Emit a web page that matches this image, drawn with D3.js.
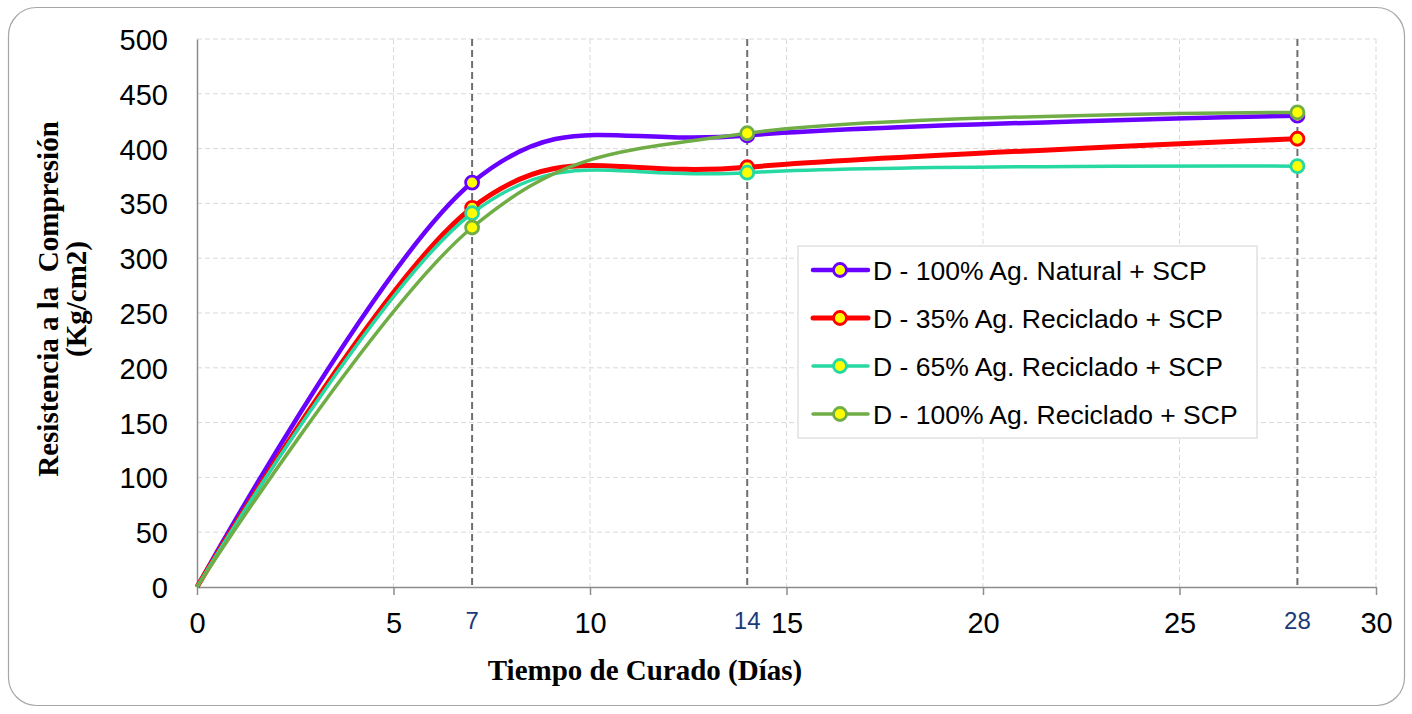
<!DOCTYPE html>
<html lang="es">
<head>
<meta charset="UTF-8">
<title>Resistencia a la Compresión</title>
<script src="https://d3js.org/d3.v7.min.js"></script>
<style>
  body { margin: 0; background: #fff; }
  svg { display: block; }
  .tick text { font-family: "Liberation Sans", Arial, sans-serif; }
</style>
</head>
<body>
<svg id="chart" width="1412" height="714"></svg>
<script>
// data
const days = [0, 7, 14, 28];
const natural100 = [0, 369, 412, 430];
const reciclado35 = [0, 346, 383, 409];
const reciclado65 = [0, 341, 378, 384];
const reciclado100 = [0, 328, 414, 433];
const seriesNames = [
  "D - 100% Ag. Natural + SCP",
  "D - 35% Ag. Reciclado + SCP",
  "D - 65% Ag. Reciclado + SCP",
  "D - 100% Ag. Reciclado + SCP"
];
const seriesColors = ["#6a00ff", "#ff0000", "#26d8a2", "#70ad47"];
const seriesWidths = [4.5, 5, 3.5, 3.5];
const xTicks = [0, 5, 10, 15, 20, 25, 30];
const yTicks = d3.range(0, 501, 50);
const markDays = [7, 14, 28];

const series = [natural100, reciclado35, reciclado65, reciclado100].map((vals, i) => ({
  name: seriesNames[i], color: seriesColors[i], width: seriesWidths[i],
  points: days.map((d, j) => [d, vals[j]])
}));

const svg = d3.select("#chart");
const m = { left: 197, right: 1376, top: 39, bottom: 587 };

// outer rounded frame
svg.append("rect")
  .attr("x", 8.5).attr("y", 7.5).attr("width", 1396).attr("height", 698)
  .attr("rx", 28).attr("fill", "#fff").attr("stroke", "#a6a6a6").attr("stroke-width", 1.2);

const x = d3.scaleLinear().domain([0, 30]).range([m.left, m.right]);
const y = d3.scaleLinear().domain([0, 500]).range([m.bottom, m.top]);

// gridlines
svg.append("g").selectAll("line").data(yTicks.slice(1)).join("line")
  .attr("x1", m.left).attr("x2", m.right)
  .attr("y1", d => y(d)).attr("y2", d => y(d))
  .attr("stroke", "#d9d9d9").attr("stroke-dasharray", "5,3");
svg.append("g").selectAll("line").data(xTicks.slice(1)).join("line")
  .attr("x1", d => x(d)).attr("x2", d => x(d))
  .attr("y1", m.top).attr("y2", m.bottom)
  .attr("stroke", "#d9d9d9").attr("stroke-dasharray", "5,3");

// dashed markers at test ages
svg.append("g").selectAll("line").data(markDays).join("line")
  .attr("x1", d => x(d)).attr("x2", d => x(d))
  .attr("y1", m.top).attr("y2", m.bottom)
  .attr("stroke", "#6f6f6f").attr("stroke-width", 2).attr("stroke-dasharray", "7,4");

// axes
const xAxis = svg.append("g").attr("transform", `translate(0,${m.bottom})`)
  .call(d3.axisBottom(x).tickValues(xTicks).tickSize(8).tickPadding(17).tickSizeOuter(0));
const yAxis = svg.append("g").attr("transform", `translate(${m.left},0)`)
  .call(d3.axisLeft(y).tickValues(yTicks).tickSize(0).tickPadding(29).tickSizeOuter(0));
[xAxis, yAxis].forEach(a => {
  a.select(".domain").attr("stroke", "#8c8c8c").attr("stroke-width", 1.5);
  a.selectAll(".tick line").attr("stroke", "#8c8c8c").attr("stroke-width", 1.5);
  a.selectAll(".tick text").attr("font-size", 29).attr("fill", "#000");
});
yAxis.selectAll(".tick text").attr("dy", "0.36em");

// labels for test ages
svg.append("g").selectAll("text").data(markDays).join("text")
  .attr("x", d => x(d)).attr("y", 629)
  .attr("text-anchor", "middle")
  .attr("font-family", "'Liberation Sans', Arial, sans-serif")
  .attr("font-size", 24).attr("fill", "#1c3a78")
  .text(d => d);

// axis titles
svg.append("text")
  .attr("x", 645).attr("y", 680).attr("text-anchor", "middle")
  .attr("font-family", "'Liberation Serif', 'Times New Roman', serif")
  .attr("font-weight", "bold").attr("font-size", 29)
  .text("Tiempo de Curado (Días)");
const yt = svg.append("text")
  .attr("transform", "translate(58,299) rotate(-90)")
  .attr("text-anchor", "middle")
  .attr("font-family", "'Liberation Serif', 'Times New Roman', serif")
  .attr("font-weight", "bold").attr("font-size", 29);
yt.append("tspan").attr("x", 0).attr("y", 0).attr("xml:space", "preserve").text("Resistencia a la  Compresión");
yt.append("tspan").attr("x", 0).attr("y", 28).text("(Kg/cm2)");

// series
const line = d3.line().x(d => x(d[0])).y(d => y(d[1])).curve(d3.curveCardinal.tension(0));
const sg = svg.append("g").selectAll("g").data(series).join("g");
sg.append("path")
  .attr("d", d => line(d.points))
  .attr("fill", "none")
  .attr("stroke", d => d.color)
  .attr("stroke-width", d => d.width)
  .attr("stroke-linejoin", "round");
sg.selectAll("circle").data(d => d.points.slice(1).map(p => ({ p, c: d.color }))).join("circle")
  .attr("cx", d => x(d.p[0])).attr("cy", d => y(d.p[1]))
  .attr("r", 6.5).attr("fill", "#ffff00")
  .attr("stroke", d => d.c).attr("stroke-width", 2.8);

// legend
const lg = svg.append("g").attr("transform", "translate(798,246)");
lg.append("rect").attr("width", 459).attr("height", 192)
  .attr("fill", "#fff").attr("stroke", "#d9d9d9").attr("stroke-width", 1.2);
const li = lg.selectAll("g").data(series).join("g")
  .attr("transform", (d, i) => `translate(0,${24 + i * 48})`);
li.append("line").attr("x1", 15).attr("x2", 70)
  .attr("stroke", d => d.color).attr("stroke-width", d => d.width).attr("stroke-linecap", "round");
li.append("circle").attr("cx", 42).attr("r", 6.5).attr("fill", "#ffff00")
  .attr("stroke", d => d.color).attr("stroke-width", 2.8);
li.append("text").attr("x", 75).attr("dy", "0.36em")
  .attr("font-family", "'Liberation Sans', Arial, sans-serif").attr("font-size", 26.5)
  .text(d => d.name);
</script>
</body>
</html>
